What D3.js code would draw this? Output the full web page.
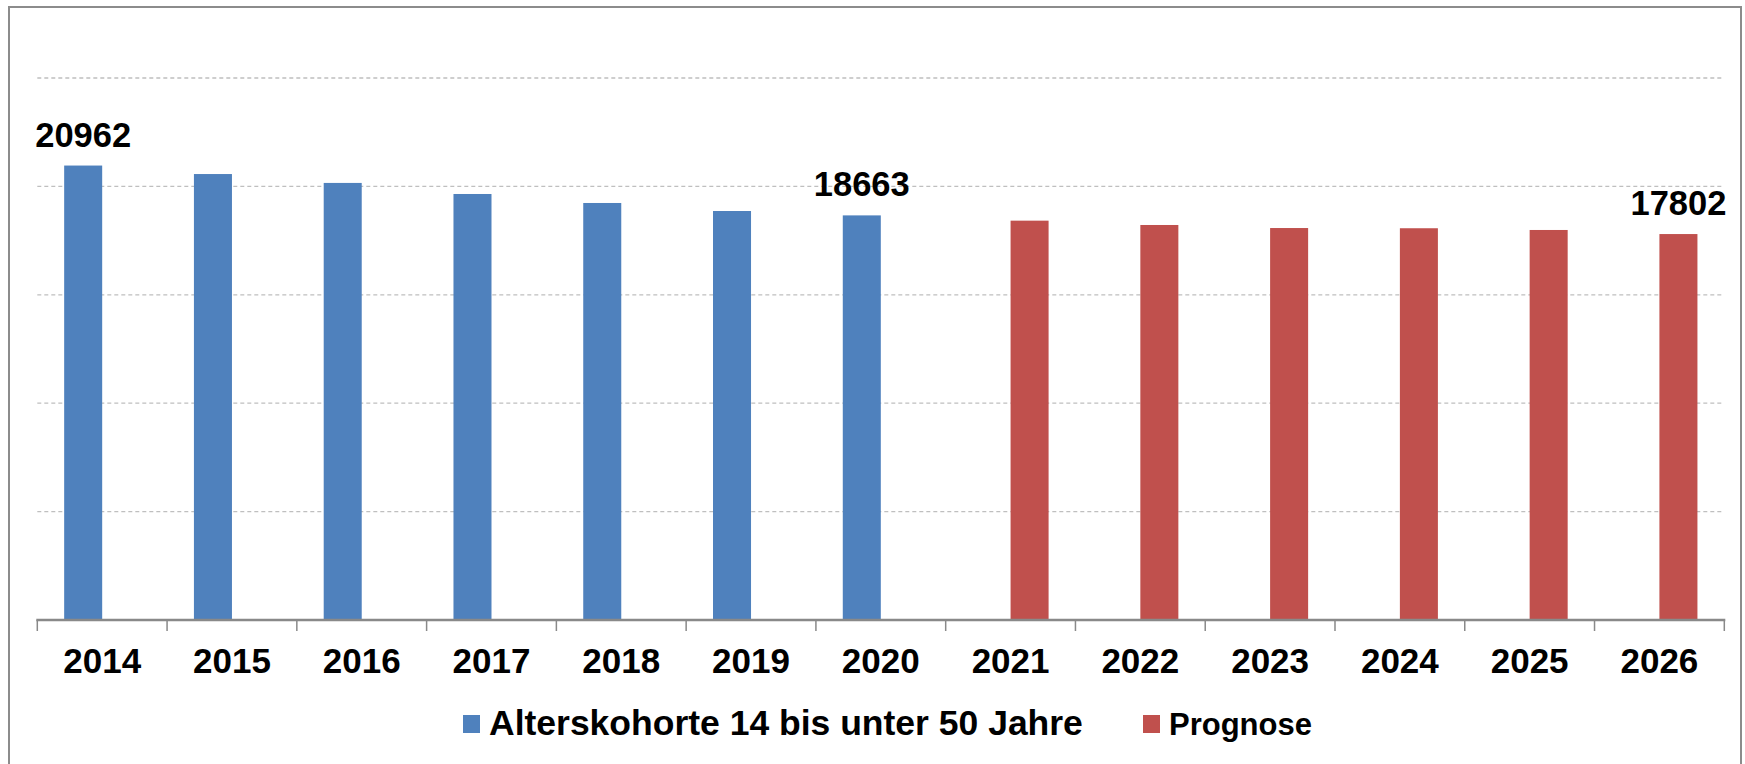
<!DOCTYPE html>
<html>
<head>
<meta charset="utf-8">
<script src="https://cdn.jsdelivr.net/npm/d3@7"></script>
<style>
  html, body { margin: 0; padding: 0; background: #ffffff; }
  svg { display: block; font-family: "Liberation Sans", Arial, sans-serif; }
</style>
</head>
<body>
<svg id="chart" width="1745" height="764"></svg>
<script>
// ---- data ----
const years = ["2014","2015","2016","2017","2018","2019","2020","2021","2022","2023","2024","2025","2026"];
const bestand  = [20962, 20570, 20160, 19650, 19235, 18865, 18663, null, null, null, null, null, null];
const prognose = [null, null, null, null, null, null, null, 18420, 18220, 18080, 18070, 17990, 17802];
const seriesKeys = ["bestand", "prognose"];
const seriesNames = ["Alterskohorte 14 bis unter 50 Jahre", "Prognose"];
const seriesColors = ["#4F81BD", "#C0504D"];
const labelYears = ["2014", "2020", "2026"];
const gridTicks = [5000, 10000, 15000, 20000, 25000];
const yMax = 25000;

// ---- layout ----
const svg = d3.select("#chart");
const W = 1745, H = 764;
const left = 37.3, right = 1724.3, baseY = 620, topY = 78;

svg.append("rect").attr("x", 0).attr("y", 0).attr("width", W).attr("height", H).attr("fill", "#fff");
svg.append("rect").attr("x", 9).attr("y", 7).attr("width", 1732).attr("height", 780)
  .attr("fill", "none").attr("stroke", "#8c8c8c").attr("stroke-width", 2);

const x0 = d3.scaleBand().domain(years).range([left, right]).paddingInner(0.414).paddingOuter(0.207);
const x1 = d3.scaleBand().domain(seriesKeys).range([0, x0.bandwidth()]);
const y = d3.scaleLinear().domain([0, yMax]).range([baseY, topY]);

// gridlines
svg.append("g").selectAll("line").data(gridTicks).join("line")
  .attr("x1", left).attr("x2", right)
  .attr("y1", d => y(d)).attr("y2", d => y(d))
  .attr("stroke", "#bfbfbf").attr("stroke-width", 1.3).attr("stroke-dasharray", "4,3");

// bars
const rows = years.map((yr, i) => ({ year: yr, bestand: bestand[i], prognose: prognose[i] }));
const barData = [];
rows.forEach(r => seriesKeys.forEach((k, j) => { if (r[k] != null) barData.push({ year: r.year, key: k, value: r[k], color: seriesColors[j] }); }));

svg.append("g").selectAll("rect").data(barData).join("rect")
  .attr("x", d => x0(d.year) + x1(d.key))
  .attr("width", x1.bandwidth())
  .attr("y", d => y(d.value))
  .attr("height", d => y(0) - y(d.value))
  .attr("fill", d => d.color);

// data labels
svg.append("g").selectAll("text").data(barData.filter(d => labelYears.includes(d.year))).join("text")
  .attr("x", d => x0(d.year) + x1(d.key) + x1.bandwidth() / 2)
  .attr("y", d => y(d.value) - 19)
  .attr("text-anchor", "middle")
  .attr("font-size", 34.5).attr("font-weight", "bold").attr("fill", "#000")
  .text(d => d.value);

// x axis
const axis = svg.append("g").attr("transform", `translate(0,${baseY})`)
  .call(d3.axisBottom(x0).tickSize(0).tickPadding(28.5).tickSizeOuter(0));
axis.select(".domain").remove();
axis.selectAll("text").attr("font-size", 35).attr("font-weight", "bold").attr("fill", "#000")
  .attr("font-family", "\"Liberation Sans\", Arial, sans-serif");

const boundaries = years.map(yr => x0(yr) - x0.step() * x0.paddingInner() / 2);
boundaries.push(boundaries[boundaries.length - 1] + x0.step());
svg.append("g").selectAll("line").data(boundaries).join("line")
  .attr("x1", d => d).attr("x2", d => d)
  .attr("y1", baseY).attr("y2", baseY + 11)
  .attr("stroke", "#898989").attr("stroke-width", 1.5);
svg.append("line").attr("x1", left - 1).attr("x2", right + 1).attr("y1", baseY).attr("y2", baseY)
  .attr("stroke", "#898989").attr("stroke-width", 2.5);

// legend
const legendItems = [
  { name: seriesNames[0], color: seriesColors[0], sx: 463, size: 35.5 },
  { name: seriesNames[1], color: seriesColors[1], sx: 1143, size: 31 }
];
const lg = svg.append("g");
legendItems.forEach(it => {
  lg.append("rect").attr("x", it.sx).attr("y", 715).attr("width", 17).attr("height", 18).attr("fill", it.color);
  lg.append("text").attr("x", it.sx + 26).attr("y", 735)
    .attr("font-size", it.size).attr("font-weight", "bold").attr("fill", "#000")
    .text(it.name);
});
</script>
</body>
</html>
